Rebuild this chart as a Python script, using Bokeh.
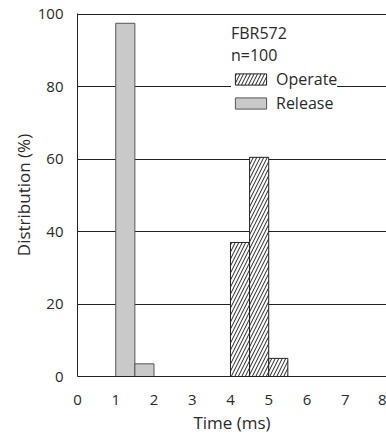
from bokeh.plotting import figure
from bokeh.models import Legend, LegendItem, Range1d, FixedTicker
from bokeh.embed import file_html
from bokeh.resources import INLINE

# Data
bin_width = 0.5
release_time = [1.25, 1.75]
release_pct = [97.5, 3.5]
operate_time = [4.25, 4.75, 5.25]
operate_pct = [37, 60.5, 5]
x_ticks = [0, 1, 2, 3, 4, 5, 6, 7, 8]
y_ticks = [0, 20, 40, 60, 80, 100]

FONT = "Open Sans"
TXT = "#2a2a2a"

p = figure(width=386, height=442, output_backend="svg", toolbar_location=None,
           x_range=Range1d(0, 8.08), y_range=Range1d(0, 100.2),
           min_border_left=77, min_border_right=0, min_border_top=13, min_border_bottom=66)
p.outline_line_color = None
p.background_fill_color = "white"
p.border_fill_color = "white"

rel = p.vbar(x=release_time, width=bin_width, top=release_pct, bottom=0,
             fill_color="#c9c9c9", line_color="#555555", line_width=1)
op = p.vbar(x=operate_time, width=bin_width, top=operate_pct, bottom=0,
            fill_color="white", line_color="#222222", line_width=1,
            hatch_pattern="/", hatch_color="#222222", hatch_weight=1, hatch_scale=7)

for ax in (p.xaxis[0], p.yaxis[0]):
    ax.major_tick_line_color = None
    ax.minor_tick_line_color = None
    ax.axis_line_color = "#222222"
    ax.axis_line_width = 1
    ax.major_label_text_font = FONT
    ax.major_label_text_font_size = "15px"
    ax.major_label_text_color = TXT
    ax.axis_label_text_font = FONT
    ax.axis_label_text_font_size = "17px"
    ax.axis_label_text_font_style = "normal"
    ax.axis_label_text_color = TXT

p.xaxis.ticker = FixedTicker(ticks=x_ticks)
p.yaxis.ticker = FixedTicker(ticks=y_ticks)
p.xaxis.major_label_standoff = 12
p.yaxis.major_label_standoff = 8
p.xaxis.axis_label = "Time (ms)"
p.yaxis.axis_label = "Distribution (%)"
p.xaxis.axis_label_standoff = 3
p.yaxis.axis_label_standoff = 0

p.xgrid.grid_line_color = None
p.ygrid.ticker = FixedTicker(ticks=y_ticks)
p.ygrid.grid_line_color = "#222222"
p.ygrid.grid_line_width = 1

legend = Legend(items=[LegendItem(label="Operate", renderers=[op]),
                       LegendItem(label="Release", renderers=[rel])],
                title="FBR572\nn=100",
                location=(154, 262))
legend.title_text_font = FONT
legend.title_text_font_size = "16px"
legend.title_text_font_style = "normal"
legend.title_text_color = TXT
legend.title_text_line_height = 1.45
legend.title_standoff = 2
legend.label_text_font = FONT
legend.label_text_font_size = "16px"
legend.label_text_color = TXT
legend.glyph_width = 39
legend.glyph_height = 14
legend.label_standoff = 6
legend.spacing = 2
legend.padding = 5
legend.margin = 0
legend.border_line_color = None
legend.background_fill_color = "white"
legend.background_fill_alpha = 1
p.add_layout(legend, "center")

open("out.html", "w").write(file_html(p, INLINE))
